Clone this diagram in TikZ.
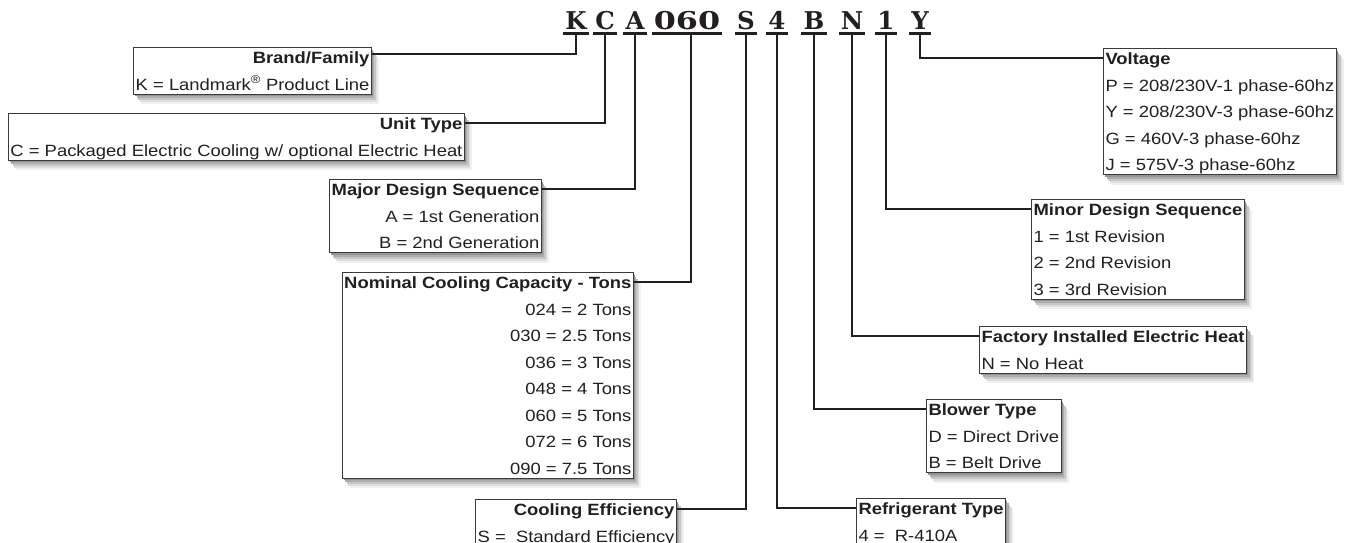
\documentclass[tikz,border=0pt]{standalone}
\usepackage{fontspec}
\usepackage{graphicx}
\setmainfont{Liberation Sans}[FakeStretch=1.13]
\newfontfamily\codefont{DejaVu Serif}
\usetikzlibrary{shadows}
\definecolor{ink}{HTML}{231F20}
\definecolor{edge}{HTML}{3A3A3A}
\newcommand\st{\rule[-4pt]{0pt}{20pt}}
\tikzset{
  shadowed/.style={
    drop shadow={shadow xshift=7.5pt,shadow yshift=-10pt,opacity=1,fill=black!6},
    drop shadow={shadow xshift=6pt,shadow yshift=-8pt,opacity=1,fill=black!13},
    drop shadow={shadow xshift=4.5pt,shadow yshift=-6pt,opacity=1,fill=black!22},
    drop shadow={shadow xshift=3pt,shadow yshift=-4pt,opacity=1,fill=black!32},
    drop shadow={shadow xshift=1.5pt,shadow yshift=-2pt,opacity=1,fill=black!42}},
  keybox/.style={draw=edge, line width=1.1pt, fill=white, inner xsep=2pt, inner ysep=0pt,
    text=ink, font=\fontsize{16.3}{26.5}\selectfont, shadowed},
  lbox/.style={keybox, align=right, anchor=north east},
  rbox/.style={keybox, align=left, anchor=north west},
  conn/.style={draw=ink, line width=2.4pt},
  codeletter/.style={inner sep=0pt, anchor=base, text=ink,
    font=\codefont\bfseries\fontsize{24.5}{24.5}\selectfont},
}
\begin{document}
\begin{tikzpicture}[x=1pt,y=-1pt]
\useasboundingbox (0,0) rectangle (1346,543);
\fill[white] (0,0) rectangle (1346,543);

% code letters
\node[codeletter] (cK) at (576,30) {K};
\node[codeletter] (cC) at (605,30) {C};
\node[codeletter] (cA) at (635,30) {A};
\node[codeletter] (c060) at (687,30) {\scalebox{1.3}[1]{060}};
\node[codeletter] (cS) at (746,30) {S};
\node[codeletter] (c4) at (777,30) {4};
\node[codeletter] (cB) at (814,30) {B};
\node[codeletter] (cN) at (852,30) {N};
\node[codeletter] (c1) at (886,30) {1};
\node[codeletter] (cY) at (920,30) {Y};
\foreach \n in {cK,cC,cA,c060,cS,c4,cB,cN,c1,cY}{
  \draw[conn] ([xshift=-2pt,yshift=-3.5pt]\n.base west) -- ([xshift=2pt,yshift=-3.5pt]\n.base east);
}
\foreach \n in {cK,cC,cA,cS,c4,cB,cN,c1,cY}{
  \coordinate (s\n) at ([yshift=-3.5pt]\n.base);
}
\coordinate (sc060) at ([xshift=4pt,yshift=-3.5pt]c060.base);

% left boxes
\node[lbox] (brand) at (372,47) {\st\textbf{Brand/Family}\\\st K = Landmark\textsuperscript{®} Product Line};
\node[lbox] (unit) at (465,113) {\st\textbf{Unit Type}\\\st C = Packaged Electric Cooling w/ optional Electric Heat};
\node[lbox] (major) at (542,179) {\st\textbf{Major Design Sequence}\\\st A = 1st Generation\\\st B = 2nd Generation};
\node[lbox] (nominal) at (634,272) {\st\textbf{Nominal Cooling Capacity - Tons}\\\st 024 = 2 Tons\\\st 030 = 2.5 Tons\\\st 036 = 3 Tons\\\st 048 = 4 Tons\\\st 060 = 5 Tons\\\st 072 = 6 Tons\\\st 090 = 7.5 Tons};
\node[lbox] (eff) at (677,499) {\st\textbf{Cooling Efficiency}\\\st S =\ \ Standard Efficiency};

% right boxes
\node[rbox] (volt) at (1103,48) {\st\textbf{Voltage}\\\st P = 208/230V-1 phase-60hz\\\st Y = 208/230V-3 phase-60hz\\\st G = 460V-3 phase-60hz\\\st J = 575V-3 phase-60hz};
\node[rbox] (minor) at (1031,199) {\st\textbf{Minor Design Sequence}\\\st 1 = 1st Revision\\\st 2 = 2nd Revision\\\st 3 = 3rd Revision};
\node[rbox] (heat) at (979,326) {\st\textbf{Factory Installed Electric Heat}\\\st N = No Heat};
\node[rbox] (blower) at (926,399) {\st\textbf{Blower Type}\\\st D = Direct Drive\\\st B = Belt Drive};
\node[rbox] (refr) at (856,498) {\st\textbf{Refrigerant Type}\\\st 4 =\ \ R-410A};

% connectors
\draw[conn] ([yshift=-7pt]brand.north east) -| (scK);
\draw[conn] ([yshift=-10pt]unit.north east) -| (scC);
\draw[conn] ([yshift=-10pt]major.north east) -| (scA);
\draw[conn] ([yshift=-10pt]nominal.north east) -| (sc060);
\draw[conn] ([yshift=-10pt]eff.north east) -| (scS);
\draw[conn] ([yshift=-10pt]volt.north west) -| (scY);
\draw[conn] ([yshift=-10pt]minor.north west) -| (sc1);
\draw[conn] ([yshift=-10pt]heat.north west) -| (scN);
\draw[conn] ([yshift=-10pt]blower.north west) -| (scB);
\draw[conn] ([yshift=-10pt]refr.north west) -| (sc4);
\end{tikzpicture}
\end{document}
